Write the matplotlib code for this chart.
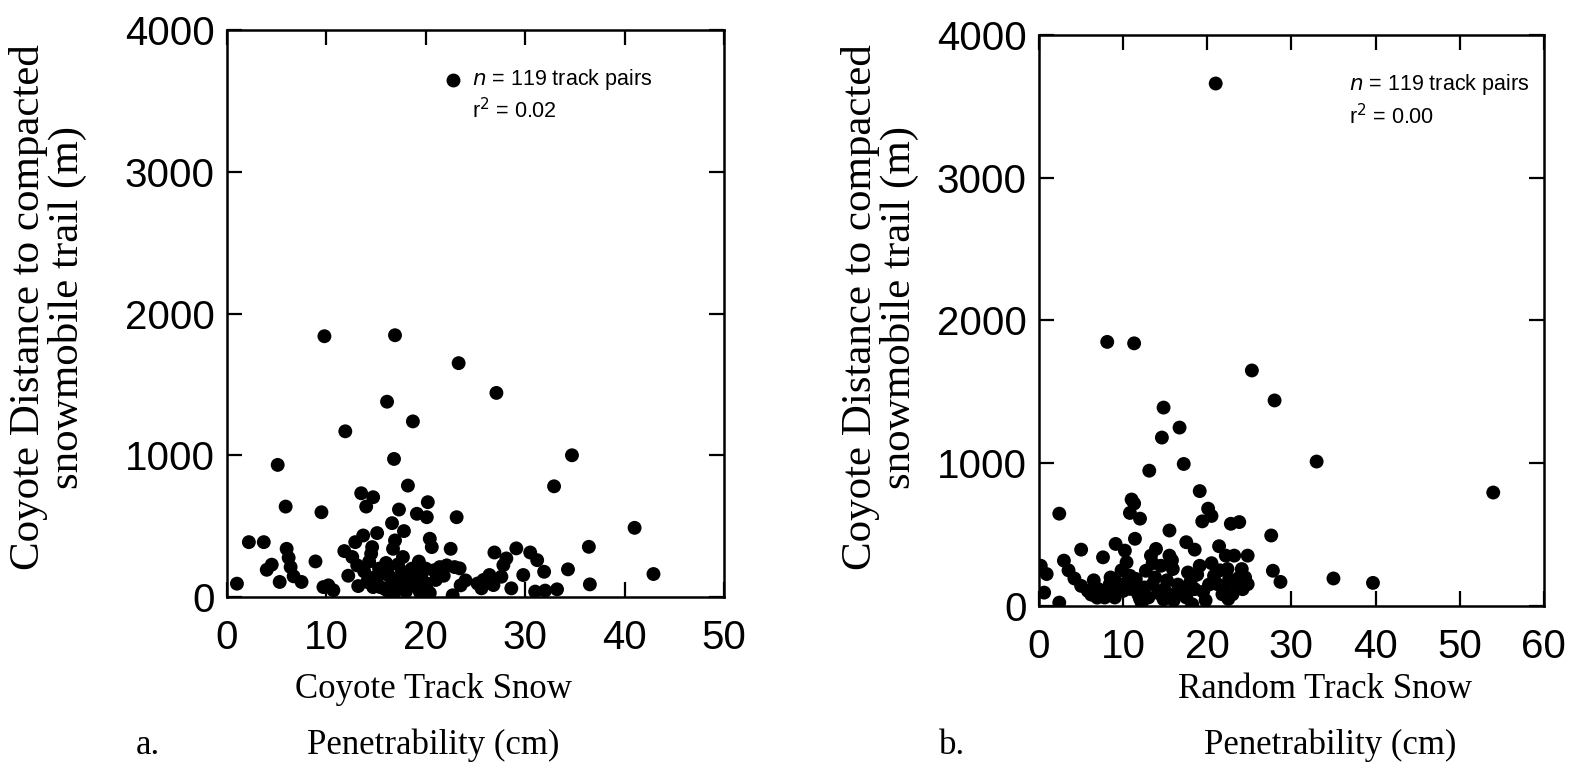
import numpy as np
import matplotlib.pyplot as plt
import matplotlib.font_manager as fm

# panel a: coyote track snow penetrability (cm) vs distance to trail (m)
coyote_x = [1.0, 2.2, 3.7, 4.0, 4.5, 5.1, 5.3, 5.9, 6.0, 6.2, 6.4, 6.7, 7.5, 8.9, 9.5, 9.7, 9.8, 10.2, 10.7,
            11.8, 11.9, 12.6, 12.9, 13.1, 13.2, 13.5, 13.7, 14.0, 14.1, 14.5, 14.6, 14.7, 14.7, 14.9, 15.1,
            15.4, 15.6, 16.1, 16.1, 16.1, 16.6, 16.6, 16.7, 16.8, 16.8, 16.9, 16.9, 17.3, 17.4, 17.7, 17.8,
            17.9, 18.2, 18.4, 18.7, 18.9, 19.1, 19.4, 19.6, 20.1, 20.1, 20.2, 20.4, 20.4, 20.6, 20.8, 21.4,
            22.1, 22.5, 22.7, 22.9, 23.1, 23.3, 23.4, 23.5, 24.0, 25.6, 25.8, 26.4, 26.8, 26.9, 27.1, 27.6,
            27.8, 28.1, 28.6, 29.1, 29.8, 30.5, 31.0, 31.2, 31.9, 32.0, 32.9, 33.2, 34.3, 34.7, 36.4, 36.5,
            41.0, 42.9, 15.0, 15.8, 16.3, 17.0, 17.6, 18.0, 18.6, 19.0, 19.8, 21.0, 15.3, 16.0, 12.2, 17.2,
            18.3, 13.8, 21.8, 19.3, 14.3, 20.0, 25.2]
coyote_y = [94, 387, 387, 192, 228, 932, 106, 638, 340, 277, 211, 146, 106, 251, 598, 70, 1840, 82, 47,
            324, 1169, 282, 387, 223, 77, 732, 434, 638, 106, 305, 352, 704, 70, 141, 451,
            70, 164, 1378, 192, 47, 521, 129, 340, 974, 23, 1847, 399, 617, 94, 282, 465,
            141, 786, 82, 1239, 129, 587, 35, 164, 563, 94, 669, 411, 28, 352, 188, 211,
            223, 340, 12, 211, 563, 1650, 202, 82, 117, 61, 120, 155, 84, 314, 1440, 143,
            225, 272, 61, 343, 155, 314, 38, 260, 178, 45, 781, 54, 195, 1000, 354, 89,
            488, 162, 110, 60, 150, 60, 180, 40, 200, 90, 60, 120, 200, 240, 150, 230,
            170, 180, 150, 250, 250, 200, 95]

# panel b: random track snow penetrability (cm) vs distance to trail (m)
random_x = [0.2, 0.6, 0.9, 2.4, 2.4, 2.95, 4.2, 5.0, 5.0, 5.8, 6.9, 7.6, 8.1, 8.4, 8.8, 9.1, 9.2, 10.0,
            10.2, 10.4, 10.8, 10.8, 11.0, 11.3, 11.3, 11.3, 11.4, 12.0, 12.2, 12.7, 13.1, 13.3, 13.5, 13.9,
            14.5, 14.6, 14.8, 14.8, 14.9, 15.5, 15.5, 15.9, 16.1, 16.7, 17.1, 17.2, 17.5, 17.7, 18.2, 18.5,
            18.5, 19.1, 19.1, 19.4, 20.1, 20.5, 20.8, 21.0, 21.2, 21.4, 21.8, 22.2, 22.4, 22.6, 22.8, 23.0,
            23.2, 23.8, 23.8, 24.1, 24.2, 24.8, 24.8, 25.3, 27.6, 27.8, 28.0, 28.7, 33.0, 35.0, 39.7, 54.0,
            6.2, 7.0, 7.8, 8.5, 9.5, 9.0, 10.5, 11.8, 12.5, 13.0, 13.8, 14.2, 15.2, 16.5, 17.5, 18.0,
            18.8, 19.5, 20.2, 21.5, 22.0, 23.5, 24.5, 9.8, 11.5, 16.0, 17.8, 19.8, 12.0, 10.8,
            3.5, 6.5, 13.5, 15.8, 20.5, 22.5, 8.0]
random_y = [282, 94, 224, 24, 647, 318, 193, 395, 141, 106, 59, 341, 1850, 153, 94, 435, 165, 106,
            388, 306, 652, 212, 746, 718, 1840, 118, 471, 612, 24, 247, 948, 353, 153, 400,
            282, 1180, 1390, 47, 118, 529, 353, 259, 82, 1250, 94, 995, 447, 235, 12, 395,
            118, 805, 282, 593, 682, 631, 212, 3660, 153, 419, 82, 353, 259, 188, 576, 82,
            353, 588, 200, 259, 118, 353, 153, 1650, 494, 247, 1440, 169, 1012, 193, 162, 795,
            80, 120, 60, 200, 130, 60, 170, 80, 130, 60, 200, 90, 180, 150, 60, 170,
            220, 100, 150, 250, 120, 150, 200, 250, 190, 40, 120, 40, 50, 120,
            250, 180, 300, 320, 300, 50, 110]

installed = {f.name for f in fm.fontManager.ttflist}
narrow = 'Liberation Sans Narrow' in installed
tick_font = 'Liberation Sans Narrow' if narrow else 'Liberation Sans'
tick_size = 35 if narrow else 29
serif = 'Liberation Serif'

fig = plt.figure(figsize=(15.72, 7.72), dpi=100)
ax_a = fig.add_axes([0.1444, 0.2267, 0.3162, 0.7343])
ax_b = fig.add_axes([0.661, 0.215, 0.321, 0.7397])


def style(ax, xmax):
    ax.set_ylim(0, 4000)
    ax.set_xlim(0, xmax)
    ax.set_yticks(np.arange(0, 4001, 1000))
    ax.set_xticks(np.arange(0, xmax + 1, 10))
    for s in ax.spines.values():
        s.set_linewidth(1.8)
    ax.tick_params(direction='in', length=11, width=1.6, top=True, right=True,
                   labelsize=tick_size, pad=9)
    ax.tick_params(axis='x', pad=16)
    for lab in ax.get_xticklabels() + ax.get_yticklabels():
        lab.set_fontfamily(tick_font)


ax_a.scatter(coyote_x, coyote_y, s=100, color='black', edgecolors='none', zorder=3)
ax_b.scatter(random_x, random_y, s=100, color='black', edgecolors='none', zorder=3)
style(ax_a, 50)
style(ax_b, 60)

# legend-like annotation
ax_a.plot([22.7], [3650], 'o', color='black', markersize=9)
ax_a.text(24.6, 3650, r'$n$ = 119 track pairs', fontsize=15.5, family='Liberation Sans', va='center')
ax_a.text(24.6, 3430, r'r$^2$ = 0.02', fontsize=15.5, family='Liberation Sans', va='center')
ax_b.text(36.8, 3650, r'$n$ = 119 track pairs', fontsize=15.5, family='Liberation Sans', va='center')
ax_b.text(36.8, 3430, r'r$^2$ = 0.00', fontsize=15.5, family='Liberation Sans', va='center')

# y axis labels (two lines, serif)
ylab = 'Coyote Distance to compacted\nsnowmobile trail (m)'
for xc in [48, 880]:
    fig.text(xc / 1572, 1 - 307 / 772, ylab, rotation=90, ha='center', va='center',
             multialignment='center', linespacing=1.0, fontsize=31, family=serif)

# x axis labels
fig.text(433 / 1572, 1 - 690 / 772, 'Coyote Track Snow', ha='center', va='center', fontsize=25, family=serif)
fig.text(433 / 1572, 1 - 745 / 772, 'Penetrability (cm)', ha='center', va='center', fontsize=25, family=serif)
fig.text(148 / 1572, 1 - 745 / 772, 'a.', ha='center', va='center', fontsize=25, family=serif)
fig.text(1325 / 1572, 1 - 690 / 772, 'Random Track Snow', ha='center', va='center', fontsize=25, family=serif)
fig.text(1330 / 1572, 1 - 745 / 772, 'Penetrability (cm)', ha='center', va='center', fontsize=25, family=serif)
fig.text(952 / 1572, 1 - 745 / 772, 'b.', ha='center', va='center', fontsize=25, family=serif)

fig.savefig('out.png', dpi=100)
